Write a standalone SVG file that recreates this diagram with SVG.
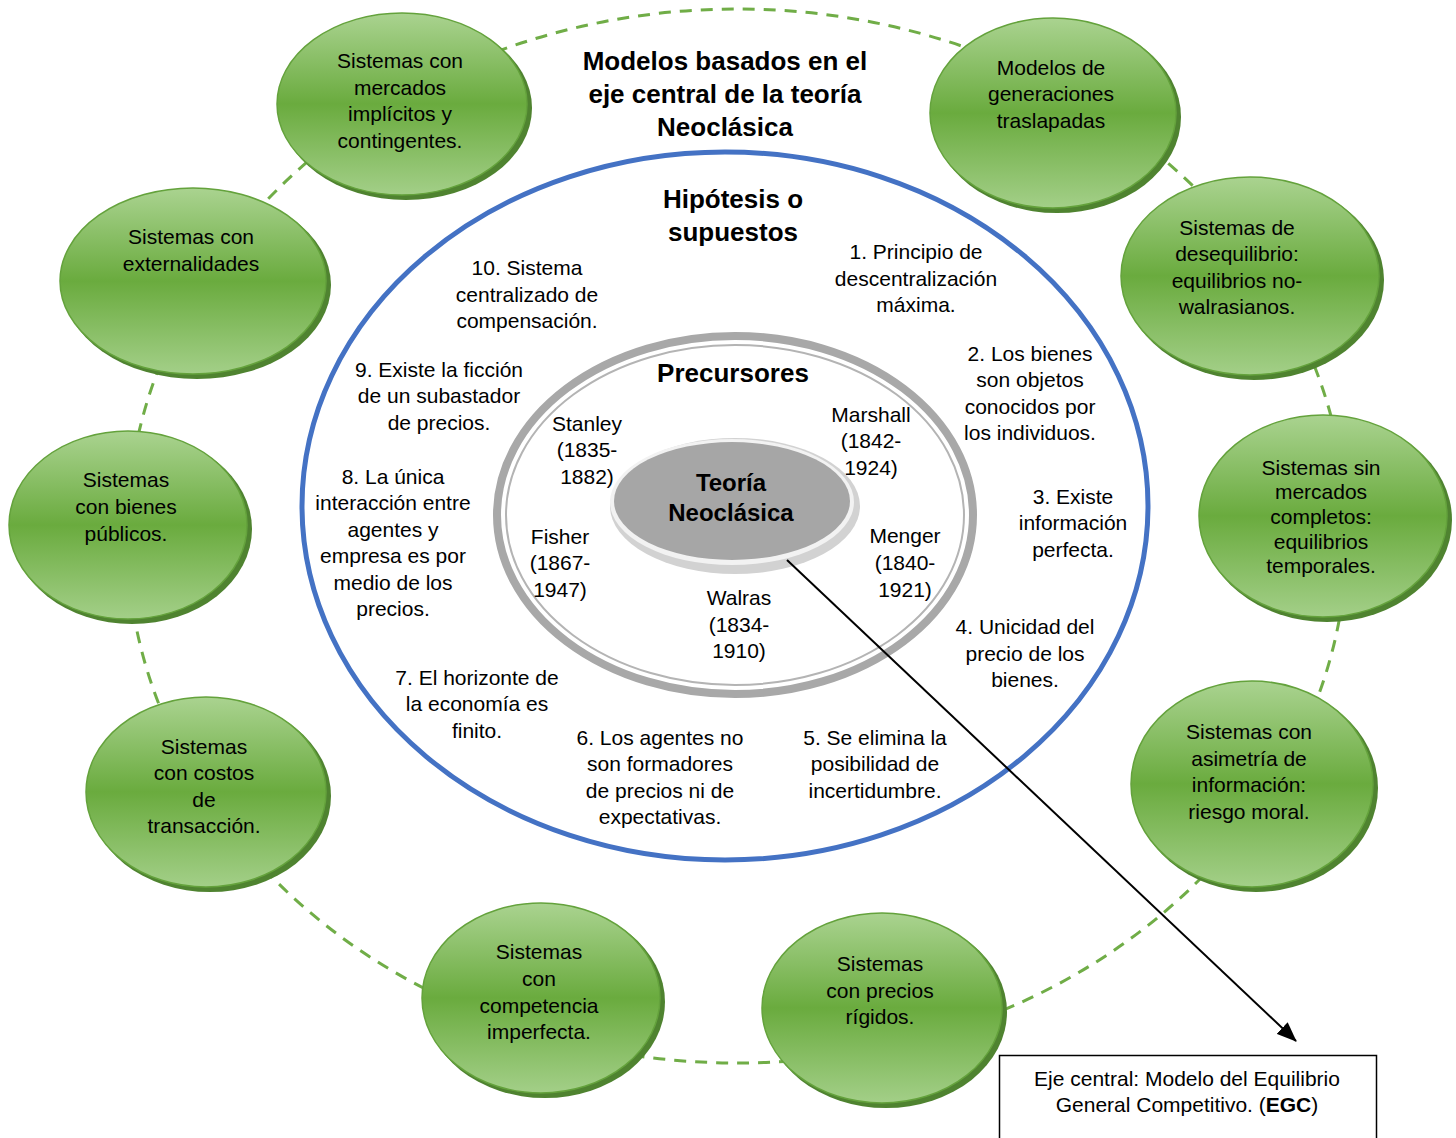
<svg xmlns="http://www.w3.org/2000/svg" width="1456" height="1138" viewBox="0 0 1456 1138">
  <style>
    text { font-family: "Liberation Sans", Arial, sans-serif; fill: #000; text-anchor: middle; dominant-baseline: central; }
    .t { font-size: 21px; }
    .h { font-size: 26px; font-weight: bold; }
    .c { font-size: 24px; font-weight: bold; }
    .shadow { fill: #4f8330; }
    .bubble { fill: url(#greenFill); stroke: #64a23c; stroke-width: 1.5; }
    .orbit { fill: none; stroke: #70ad47; stroke-width: 3; stroke-dasharray: 12 9; }
    .link { fill: none; stroke: #000; stroke-width: 2; }
  </style>
  <defs>
    <linearGradient id="greenFill" x1="0" y1="0" x2="0" y2="1">
      <stop offset="0" stop-color="#aad390"/>
      <stop offset="0.5" stop-color="#6aab3e"/>
      <stop offset="1" stop-color="#a3cf88"/>
    </linearGradient>
    <marker id="arrow" viewBox="0 0 20 16" refX="19" refY="8" markerWidth="20" markerHeight="16" markerUnits="userSpaceOnUse" orient="auto">
      <path d="M0,0 L20,8 L0,16 z" fill="#000"/>
    </marker>
  </defs>

  <rect width="1456" height="1138" fill="#fff"/>

  <!-- outer dashed orbit joining the model bubbles -->
  <ellipse class="orbit" cx="737" cy="536" rx="610" ry="527"/>

  <g transform="translate(0,-1)">
  <!-- hypotheses ring -->
  <g id="hipotesis">
    <ellipse cx="725" cy="507" rx="423" ry="354" fill="#fff" stroke="#4472c4" stroke-width="5"/>
    <text class="h" x="733" y="200">Hipótesis o</text>
    <text class="h" x="733" y="233">supuestos</text>
    <text class="t" x="916" y="252">1. Principio de</text>
    <text class="t" x="916" y="279">descentralización</text>
    <text class="t" x="916" y="305">máxima.</text>
    <text class="t" x="1030" y="354">2. Los bienes</text>
    <text class="t" x="1030" y="380">son objetos</text>
    <text class="t" x="1030" y="407">conocidos por</text>
    <text class="t" x="1030" y="433">los individuos.</text>
    <text class="t" x="1073" y="497">3. Existe</text>
    <text class="t" x="1073" y="523">información</text>
    <text class="t" x="1073" y="550">perfecta.</text>
    <text class="t" x="1025" y="627">4. Unicidad del</text>
    <text class="t" x="1025" y="654">precio de los</text>
    <text class="t" x="1025" y="680">bienes.</text>
    <text class="t" x="875" y="738">5. Se elimina la</text>
    <text class="t" x="875" y="764">posibilidad de</text>
    <text class="t" x="875" y="791">incertidumbre.</text>
    <text class="t" x="660" y="738">6. Los agentes no</text>
    <text class="t" x="660" y="764">son formadores</text>
    <text class="t" x="660" y="791">de precios ni de</text>
    <text class="t" x="660" y="817">expectativas.</text>
    <text class="t" x="477" y="678">7. El horizonte de</text>
    <text class="t" x="477" y="704">la economía es</text>
    <text class="t" x="477" y="731">finito.</text>
    <text class="t" x="393" y="477">8. La única</text>
    <text class="t" x="393" y="503">interacción entre</text>
    <text class="t" x="393" y="530">agentes y</text>
    <text class="t" x="393" y="556">empresa es por</text>
    <text class="t" x="393" y="583">medio de los</text>
    <text class="t" x="393" y="609">precios.</text>
    <text class="t" x="439" y="370">9. Existe la ficción</text>
    <text class="t" x="439" y="396">de un subastador</text>
    <text class="t" x="439" y="423">de precios.</text>
    <text class="t" x="527" y="268">10. Sistema</text>
    <text class="t" x="527" y="295">centralizado de</text>
    <text class="t" x="527" y="321">compensación.</text>
  </g>

  <!-- precursors ring -->
  <g id="precursores">
    <ellipse cx="735" cy="516" rx="238" ry="179" fill="none" stroke="#a8a8a8" stroke-width="8"/>
    <ellipse cx="735" cy="516" rx="229" ry="170" fill="none" stroke="#b4b4b4" stroke-width="2"/>
    <text class="h" x="733" y="374">Precursores</text>
    <text class="t" x="587" y="424">Stanley</text>
    <text class="t" x="587" y="450">(1835-</text>
    <text class="t" x="587" y="477">1882)</text>
    <text class="t" x="871" y="415">Marshall</text>
    <text class="t" x="871" y="441">(1842-</text>
    <text class="t" x="871" y="468">1924)</text>
    <text class="t" x="560" y="537">Fisher</text>
    <text class="t" x="560" y="563">(1867-</text>
    <text class="t" x="560" y="590">1947)</text>
    <text class="t" x="905" y="536">Menger</text>
    <text class="t" x="905" y="563">(1840-</text>
    <text class="t" x="905" y="590">1921)</text>
    <text class="t" x="739" y="598">Walras</text>
    <text class="t" x="739" y="625">(1834-</text>
    <text class="t" x="739" y="651">1910)</text>
  </g>

  <!-- core -->
  <g id="teoria">
    <ellipse cx="735" cy="507" rx="125" ry="68" fill="#d2d2d2"/>
    <ellipse cx="732" cy="503" rx="122" ry="63" fill="#f2f2f2"/>
    <ellipse cx="732" cy="502" rx="118" ry="59" fill="#a6a6a6"/>
    <text class="c" x="731" y="483">Teoría</text>
    <text class="c" x="731" y="513">Neoclásica</text>
  </g>

  <g id="titulo">
    <text class="h" x="725" y="62">Modelos basados en el</text>
    <text class="h" x="725" y="95">eje central de la teoría</text>
    <text class="h" x="725" y="128">Neoclásica</text>
  </g>

  <!-- model bubbles -->
  <g id="node-implicitos">
    <ellipse class="shadow" cx="406" cy="109" rx="126" ry="92"/>
    <ellipse class="bubble" cx="402" cy="105" rx="125" ry="91"/>
    <text class="t" x="400" y="61">Sistemas con</text>
    <text class="t" x="400" y="88">mercados</text>
    <text class="t" x="400" y="114">implícitos y</text>
    <text class="t" x="400" y="141">contingentes.</text>
  </g>
  <g id="node-generaciones">
    <ellipse class="shadow" cx="1057" cy="118" rx="124" ry="96"/>
    <ellipse class="bubble" cx="1053" cy="114" rx="123" ry="95"/>
    <text class="t" x="1051" y="68">Modelos de</text>
    <text class="t" x="1051" y="94">generaciones</text>
    <text class="t" x="1051" y="121">traslapadas</text>
  </g>
  <g id="node-desequilibrio">
    <ellipse class="shadow" cx="1254" cy="281" rx="130" ry="100"/>
    <ellipse class="bubble" cx="1250" cy="277" rx="129" ry="99"/>
    <text class="t" x="1237" y="228">Sistemas de</text>
    <text class="t" x="1237" y="254">desequilibrio:</text>
    <text class="t" x="1237" y="281">equilibrios no-</text>
    <text class="t" x="1237" y="307">walrasianos.</text>
  </g>
  <g id="node-sin-mercados">
    <ellipse class="shadow" cx="1327" cy="521" rx="125" ry="102"/>
    <ellipse class="bubble" cx="1323" cy="517" rx="124" ry="101"/>
    <text class="t" x="1321" y="468">Sistemas sin</text>
    <text class="t" x="1321" y="492">mercados</text>
    <text class="t" x="1321" y="517">completos:</text>
    <text class="t" x="1321" y="542">equilibrios</text>
    <text class="t" x="1321" y="566">temporales.</text>
  </g>
  <g id="node-asimetria">
    <ellipse class="shadow" cx="1256" cy="789" rx="122" ry="104"/>
    <ellipse class="bubble" cx="1252" cy="785" rx="121" ry="103"/>
    <text class="t" x="1249" y="732">Sistemas con</text>
    <text class="t" x="1249" y="759">asimetría de</text>
    <text class="t" x="1249" y="785">información:</text>
    <text class="t" x="1249" y="812">riesgo moral.</text>
  </g>
  <g id="node-precios-rigidos">
    <ellipse class="shadow" cx="886" cy="1013" rx="121" ry="96"/>
    <ellipse class="bubble" cx="882" cy="1009" rx="120" ry="95"/>
    <text class="t" x="880" y="964">Sistemas</text>
    <text class="t" x="880" y="991">con precios</text>
    <text class="t" x="880" y="1017">rígidos.</text>
  </g>
  <g id="node-competencia">
    <ellipse class="shadow" cx="545" cy="1003" rx="120" ry="96"/>
    <ellipse class="bubble" cx="541" cy="999" rx="119" ry="95"/>
    <text class="t" x="539" y="952">Sistemas</text>
    <text class="t" x="539" y="979">con</text>
    <text class="t" x="539" y="1006">competencia</text>
    <text class="t" x="539" y="1032">imperfecta.</text>
  </g>
  <g id="node-costos">
    <ellipse class="shadow" cx="210" cy="797" rx="121" ry="96"/>
    <ellipse class="bubble" cx="206" cy="793" rx="120" ry="95"/>
    <text class="t" x="204" y="747">Sistemas</text>
    <text class="t" x="204" y="773">con costos</text>
    <text class="t" x="204" y="800">de</text>
    <text class="t" x="204" y="826">transacción.</text>
  </g>
  <g id="node-bienes-publicos">
    <ellipse class="shadow" cx="132" cy="530" rx="120" ry="95"/>
    <ellipse class="bubble" cx="128" cy="526" rx="119" ry="94"/>
    <text class="t" x="126" y="480">Sistemas</text>
    <text class="t" x="126" y="507">con bienes</text>
    <text class="t" x="126" y="534">públicos.</text>
  </g>
  <g id="node-externalidades">
    <ellipse class="shadow" cx="197" cy="286" rx="134" ry="94"/>
    <ellipse class="bubble" cx="193" cy="282" rx="133" ry="93"/>
    <text class="t" x="191" y="237">Sistemas con</text>
    <text class="t" x="191" y="264">externalidades</text>
  </g>
  </g>

  <!-- connector from the core to the central-axis note -->
  <g id="connectors">
    <line class="link" x1="787" y1="560" x2="1296" y2="1041" marker-end="url(#arrow)"/>
  </g>

  <g id="node-eje-central">
    <rect x="999.5" y="1055.5" width="377" height="90" fill="#fff" stroke="#000" stroke-width="1.5"/>
    <text class="t" x="1187" y="1078">Eje central: Modelo del Equilibrio</text>
    <text class="t" x="1187" y="1104">General Competitivo. (<tspan font-weight="bold">EGC</tspan>)</text>
  </g>
</svg>
